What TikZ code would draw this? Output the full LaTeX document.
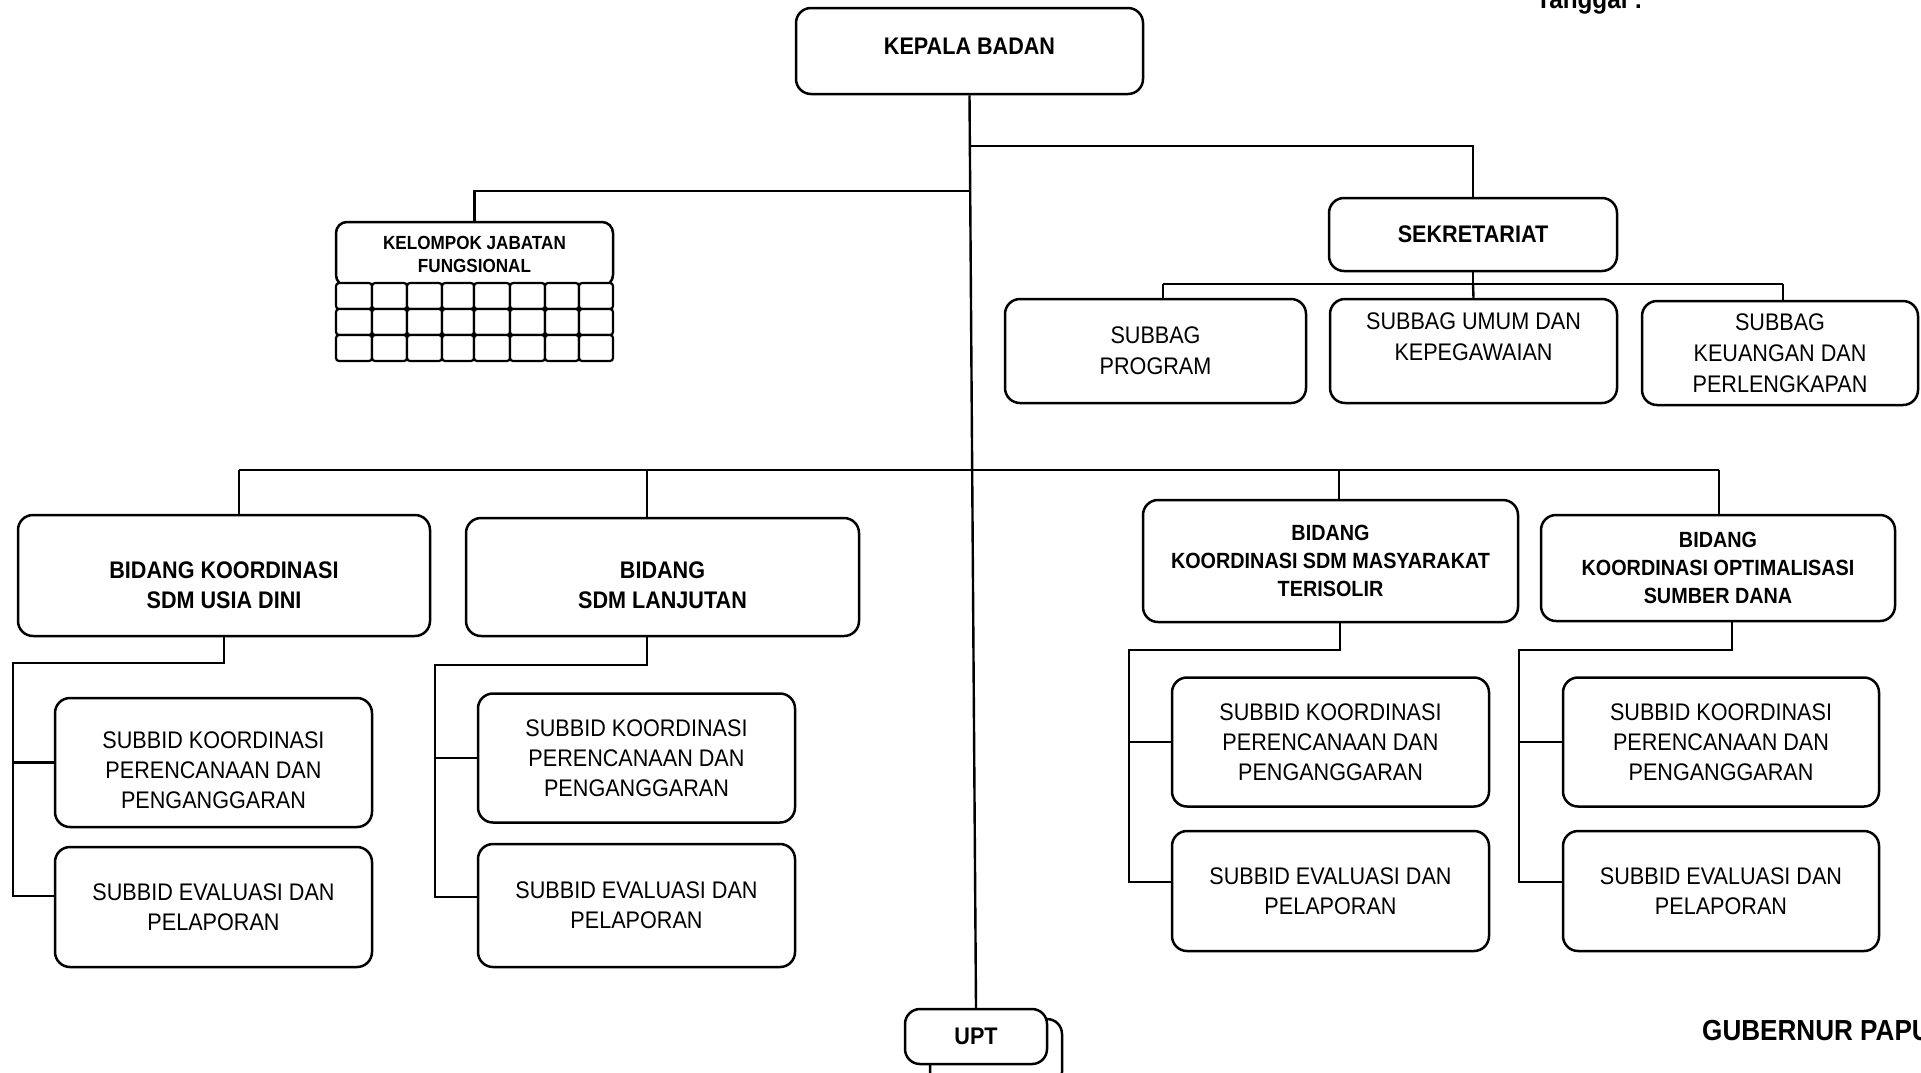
\documentclass[tikz,border=0pt]{standalone}
\usepackage{fontspec}
\setmainfont{Liberation Sans}[FakeStretch=0.9]
\usetikzlibrary{calc}
\begin{document}
\begin{tikzpicture}[x=1pt,y=-1pt,
  box/.style={draw, line width=2.5pt, rounded corners=15pt, fill=white, align=center, inner sep=2pt},
  txt/.style={align=center, inner sep=0pt},
  conn/.style={line width=2.4pt},
  reg/.style={font=\fontsize{24}{30}\selectfont},
  regb/.style={font=\fontsize{24}{31}\selectfont},
  bld/.style={font=\bfseries\fontsize{24}{30}\selectfont},
  bsm/.style={font=\bfseries\fontsize{22}{28}\selectfont},
  bxs/.style={font=\bfseries\fontsize{19}{23}\selectfont},
  cellbox/.style={draw, line width=2.2pt, rounded corners=3pt, fill=white}]
\clip (0,0) rectangle (1921,1072);
\fill[white] (0,0) rectangle (1921,1072);

% ---- top
\node[box, minimum width=347pt, minimum height=86pt] (kepala) at (969.5,51) {};
\node[txt, bld] (kepalat) at (969.5,46) {KEPALA BADAN};

% ---- kelompok jabatan fungsional
\node[box, bxs, rounded corners=11pt, minimum width=277pt, minimum height=64pt] (kjf) at (474.5,254) {KELOMPOK JABATAN\\FUNGSIONAL};
\foreach \xa/\xb [count=\i] in {336/372,372/407,407/442,442/474,474/510,510/545,545/579,579/613}
  \foreach \ya/\yb in {283/309,309/335,335/361}
    \draw[cellbox] (\xa,\ya) rectangle (\xb,\yb);

% ---- sekretariat
\node[box, bld, minimum width=288pt, minimum height=73pt] (sek) at (1473,234.5) {SEKRETARIAT};
\node[box, regb, minimum width=301pt, minimum height=104pt] (sbprog) at (1155.5,351) {SUBBAG\\PROGRAM};
\node[box, minimum width=287pt, minimum height=104pt] (sbumum) at (1473.5,351) {};
\node[txt, regb] (sbumumt) at (1473.5,337) {SUBBAG UMUM DAN\\KEPEGAWAIAN};
\node[box, regb, minimum width=276pt, minimum height=104pt] (sbkeu) at (1780,353) {SUBBAG\\KEUANGAN DAN\\PERLENGKAPAN};

% ---- bidang
\node[box, minimum width=412pt, minimum height=121pt] (bid1) at (224,575.5) {};
\node[txt, bld] (bid1t) at (224,585) {BIDANG KOORDINASI\\SDM USIA DINI};
\node[box, minimum width=393pt, minimum height=118pt] (bid2) at (662.5,577) {};
\node[txt, bld] (bid2t) at (662.5,585) {BIDANG\\SDM LANJUTAN};
\node[box, bsm, minimum width=375pt, minimum height=122pt] (bid3) at (1330.5,561) {BIDANG\\KOORDINASI SDM MASYARAKAT\\TERISOLIR};
\node[box, bsm, minimum width=354pt, minimum height=106pt] (bid4) at (1718,568) {BIDANG\\KOORDINASI OPTIMALISASI\\SUMBER DANA};

% ---- subbid
\node[box, minimum width=317pt, minimum height=129pt] (s1a) at (213.5,762.5) {};
\node[txt, reg] (s1at) at (213.5,770) {SUBBID KOORDINASI\\PERENCANAAN DAN\\PENGANGGARAN};
\node[box, reg, minimum width=317pt, minimum height=120pt] (s1b) at (213.5,907) {SUBBID EVALUASI DAN\\PELAPORAN};
\node[box, reg, minimum width=317pt, minimum height=129pt] (s2a) at (636.5,758) {SUBBID KOORDINASI\\PERENCANAAN DAN\\PENGANGGARAN};
\node[box, reg, minimum width=317pt, minimum height=123pt] (s2b) at (636.5,905.5) {SUBBID EVALUASI DAN\\PELAPORAN};
\node[box, reg, minimum width=317pt, minimum height=129pt] (s3a) at (1330.5,742) {SUBBID KOORDINASI\\PERENCANAAN DAN\\PENGANGGARAN};
\node[box, reg, minimum width=317pt, minimum height=120pt] (s3b) at (1330.5,891) {SUBBID EVALUASI DAN\\PELAPORAN};
\node[box, reg, minimum width=316pt, minimum height=129pt] (s4a) at (1721,742) {SUBBID KOORDINASI\\PERENCANAAN DAN\\PENGANGGARAN};
\node[box, reg, minimum width=316pt, minimum height=120pt] (s4b) at (1721,891) {SUBBID EVALUASI DAN\\PELAPORAN};

% ---- UPT
\node[box, minimum width=132pt, minimum height=68pt] (upt2) at (996,1053) {};
\node[box, bld, minimum width=142pt, minimum height=55pt] (upt) at (976,1036.5) {UPT};

% ---- connectors
\draw[conn] (kepala.south) -- (upt.north);
\coordinate (jR) at (970,146);
\coordinate (jL) at (970,191);
\draw[conn] (jR) -| (sek.north);
\draw[conn] (jL) -| (kjf.north);

\coordinate (sb) at (1473,284);
\coordinate (sbL) at (1163,284);
\coordinate (sbR) at (1783,284);
\draw[conn] (sek.south) -- (sb);
\draw[conn] (sbL) -- (sbR);
\draw[conn] (sbL) -- (sbL |- sbprog.north);
\draw[conn] (sb) -- (sbumum.north);
\draw[conn] (sbR) -- (sbR |- sbkeu.north);

\coordinate (bL) at (239,470);
\coordinate (b2) at (647,470);
\coordinate (b3) at (1339,470);
\coordinate (bR) at (1719,470);
\draw[conn] (bL) -- (bR);
\draw[conn] (bL) -- (bL |- bid1.north);
\draw[conn] (b2) -- (b2 |- bid2.north);
\draw[conn] (b3) -- (b3 |- bid3.north);
\draw[conn] (bR) -- (bR |- bid4.north);

\coordinate (k1) at (224,663);
\coordinate (k1l) at (13,663);
\draw[conn] (k1 |- bid1.south) -- (k1) -- (k1l) |- ($(s1b.west)+(0,-11)$);
\draw[conn] (k1l |- s1a.west) -- (s1a.west);

\coordinate (k2) at (647,665);
\coordinate (k2l) at (435,665);
\draw[conn] (k2 |- bid2.south) -- (k2) -- (k2l) |- ($(s2b.west)+(0,-8.5)$);
\draw[conn] (k2l |- s2a.west) -- (s2a.west);

\coordinate (k3) at (1340,650);
\coordinate (k3l) at (1129,650);
\draw[conn] (k3 |- bid3.south) -- (k3) -- (k3l) |- ($(s3b.west)+(0,-9)$);
\draw[conn] (k3l |- s3a.west) -- (s3a.west);

\coordinate (k4) at (1732,650);
\coordinate (k4l) at (1519,650);
\draw[conn] (k4 |- bid4.south) -- (k4) -- (k4l) |- ($(s4b.west)+(0,-9)$);
\draw[conn] (k4l |- s4a.west) -- (s4a.west);

% ---- free texts
\node[anchor=base west, inner sep=0pt, font=\bfseries\fontsize{27}{32}\selectfont] (tgl) at (1536,8) {Tanggal :};
\node[anchor=base west, inner sep=0pt, font=\bfseries\fontsize{29}{34}\selectfont] (gub) at (1702,1040) {GUBERNUR PAPU};
\end{tikzpicture}
\end{document}
